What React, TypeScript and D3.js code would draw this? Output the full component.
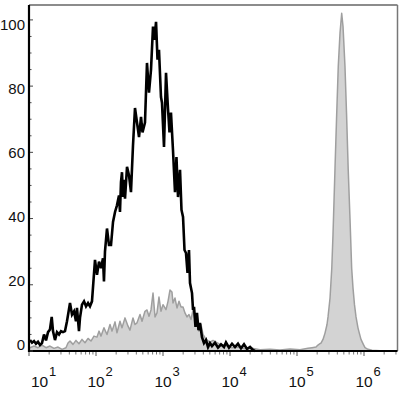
import React from 'react';
import * as d3 from 'd3';

const W = 406;
const H = 394;

// log10 of fluorescence intensity, and % of max, for the unstained/black histogram
const blackExp = [1.015,1.045,1.075,1.104,1.134,1.164,1.194,1.224,1.254,1.284,1.313,1.339,1.358,1.388,1.418,1.448,1.478,1.507,1.537,1.567,1.612,1.642,1.672,1.701,1.716,1.746,1.761,1.791,1.821,1.851,1.881,1.910,1.940,1.985,2.015,2.045,2.075,2.104,2.119,2.134,2.164,2.194,2.224,2.254,2.284,2.313,2.343,2.358,2.373,2.388,2.403,2.418,2.433,2.463,2.493,2.522,2.552,2.582,2.612,2.642,2.672,2.694,2.731,2.761,2.791,2.821,2.851,2.873,2.896,2.918,2.940,2.970,2.985,3.015,3.045,3.075,3.097,3.119,3.149,3.179,3.201,3.224,3.254,3.276,3.299,3.321,3.343,3.366,3.388,3.403,3.433,3.448,3.463,3.485,3.507,3.530,3.552,3.582,3.612,3.642,3.672,3.701,3.731,3.776,3.821,3.866,3.910,3.940,3.985,4.030,4.075,4.119,4.164,4.209,4.254,4.299,4.343,4.373];
const blackPct = [3.3,2.5,3,2.2,2.8,1.8,2.4,5,3.2,5.7,6.5,10.3,6,3.3,5.7,5,6,5.7,6,9,14.5,11,12,9,13,6,10,14,15,13.5,14.5,13.5,15,27.5,23,27,25,28,21,30,37,32,32,39,42,44,47,42,51,54,46.5,51.7,46,55.6,53,48,62,73.4,69,64.6,70.7,66,69,87,78,85,98,94,99.4,88,91,76.7,75,61.6,84,73,66,72,60.7,48,58.6,46.5,54.7,42.6,40.5,30.5,29.6,23.6,30.5,20.5,17.5,12.4,13.3,7.3,11.5,6.3,8.5,4.2,2.4,3.3,1.2,2.4,1.5,2.5,1,2,1.2,2.6,1,2.2,1.2,2.2,0.8,2,0.6,1.2,0.3,0];

// stained/grey filled histogram
const greyExp = [1.015,1.075,1.134,1.194,1.254,1.313,1.373,1.433,1.493,1.552,1.582,1.612,1.657,1.701,1.746,1.791,1.836,1.881,1.925,1.970,2.015,2.045,2.075,2.119,2.164,2.209,2.239,2.284,2.313,2.358,2.388,2.433,2.478,2.507,2.552,2.582,2.612,2.657,2.687,2.731,2.761,2.791,2.821,2.851,2.881,2.910,2.940,2.970,3.000,3.045,3.075,3.104,3.134,3.149,3.179,3.209,3.239,3.269,3.299,3.328,3.358,3.388,3.418,3.448,3.478,3.507,3.537,3.567,3.597,3.627,3.657,3.701,3.746,3.806,3.851,3.896,3.955,4.030,4.119,4.224,4.328,4.448,4.597,4.746,4.896,5.045,5.164,5.224,5.284,5.313,5.343,5.358,5.388,5.418,5.448,5.463,5.493,5.519,5.537,5.567,5.590,5.616,5.642,5.667,5.687,5.716,5.739,5.764,5.791,5.816,5.836,5.858,5.881,5.910,5.930,5.955,5.990,6.015,6.060,6.119,6.239,6.463];
const greyPct = [1,1.5,1,1.8,1,1.5,0.8,1.2,0.5,1,2.4,3,2,3.2,2.2,3.5,2.5,3.8,3,4.5,4.2,6,4.5,7,5,8,6,8.8,5.5,9,7,10,7.5,6.3,10,8,8.5,11,9,12,12.4,10.5,12.4,17.5,10.3,11.5,16.3,12,14,12.5,15,18.4,17.8,14.5,16,13,15,13.3,13.3,11.5,10.3,11,9.5,12.4,9.4,8.5,6,8,5,4,3.3,2.7,3.2,2.5,2,1.8,1.5,1,1.2,0.7,0.8,0.4,0.5,0.3,0.6,0.4,0.8,1,1.2,1.8,2.2,2.4,3.5,5.4,8,10.3,16,25,35,55,70,86,96,102,98,86,72,55,40,25,19,14,10.3,7,5.4,3.5,2,1,0.5,0.2,0.1,0];

const yTicks = [0, 20, 40, 60, 80, 100];
const yMinor = d3.range(0, 101, 5);
const xDecades = [1, 2, 3, 4, 5, 6];

export default function App() {
  const x = d3.scaleLog().domain([10, Math.pow(10, 6.5)]).range([29, 397.5]);
  const y = d3.scaleLinear().domain([0, 104.5]).range([351, 5]);
  const yLab = d3.scaleLinear().domain([0, 100]).range([346, 26.5]);

  const black: [number, number][] = blackExp.map((e, i) => [Math.pow(10, e), blackPct[i]]);
  const grey: [number, number][] = greyExp.map((e, i) => [Math.pow(10, e), greyPct[i]]);

  const line = d3.line<[number, number]>().x(d => x(d[0])).y(d => y(d[1]));
  const area = d3.area<[number, number]>().x(d => x(d[0])).y0(y(0)).y1(d => y(d[1]));

  const [x0, x1] = x.range();
  const [yb, yt] = y.range();

  const minorX: number[] = [];
  xDecades.forEach(d => {
    for (let k = 2; k <= 9; k++) {
      const v = k * Math.pow(10, d);
      if (v < x.domain()[1]) minorX.push(v);
    }
  });

  const font = '"Liberation Sans", Arial, sans-serif';

  return (
    <svg width={W} height={H} style={{ position: 'absolute', left: 0, top: 0, background: '#fff' }}>
      <rect x={0} y={0} width={W} height={H} fill="#fff" />
      {/* grey filled histogram */}
      <path d={area(grey) || ''} fill="#d3d3d3" stroke="none" />
      <path d={line(grey) || ''} fill="none" stroke="#9f9f9f" strokeWidth={1.5} strokeLinejoin="round" />
      {/* black histogram */}
      <path d={line(black) || ''} fill="none" stroke="#000" strokeWidth={2.6} strokeLinejoin="miter" strokeMiterlimit={3} />

      {/* frame */}
      <line x1={x0} x2={x1} y1={yt} y2={yt} stroke="#666" strokeWidth={1.5} />
      <line x1={x1} x2={x1} y1={yt} y2={yb} stroke="#777" strokeWidth={1.5} />
      <line x1={x0} x2={x0} y1={yt} y2={yb + 1} stroke="#000" strokeWidth={2.2} />
      <line x1={x0 - 1} x2={x1} y1={yb} y2={yb} stroke="#000" strokeWidth={2.2} />

      {/* y ticks */}
      {yMinor.map(v => (
        <line key={'ym' + v} x1={x0 + 1} x2={x0 + (v % 20 === 0 ? 4 : 2.5)} y1={y(v)} y2={y(v)} stroke="#444" strokeWidth={1} />
      ))}
      {yTicks.map(v => (
        <text key={'yl' + v} x={25} y={yLab(v)} textAnchor="end" dominantBaseline="middle"
          fontFamily={font} fontSize={15} fill="#111">{v}</text>
      ))}

      {/* x ticks */}
      {minorX.map((v, i) => (
        <line key={'xm' + i} x1={x(v)} x2={x(v)} y1={yb + 1} y2={yb + 3.5} stroke="#777" strokeWidth={1} />
      ))}
      {xDecades.map(d => (
        <line key={'xM' + d} x1={x(Math.pow(10, d))} x2={x(Math.pow(10, d))} y1={yb + 1} y2={yb + 5} stroke="#555" strokeWidth={1} />
      ))}
      {xDecades.map((d, i) => {
        const cx = x(Math.pow(10, d)) + (i === 0 ? 10.5 : 0);
        return (
          <g key={'xl' + d} fontFamily={font} fill="#111">
            <text x={cx} y={387} textAnchor="middle" fontSize={15.5}>10</text>
            <text x={cx + 9.5} y={376} textAnchor="start" fontSize={13}>{d}</text>
          </g>
        );
      })}
    </svg>
  );
}
